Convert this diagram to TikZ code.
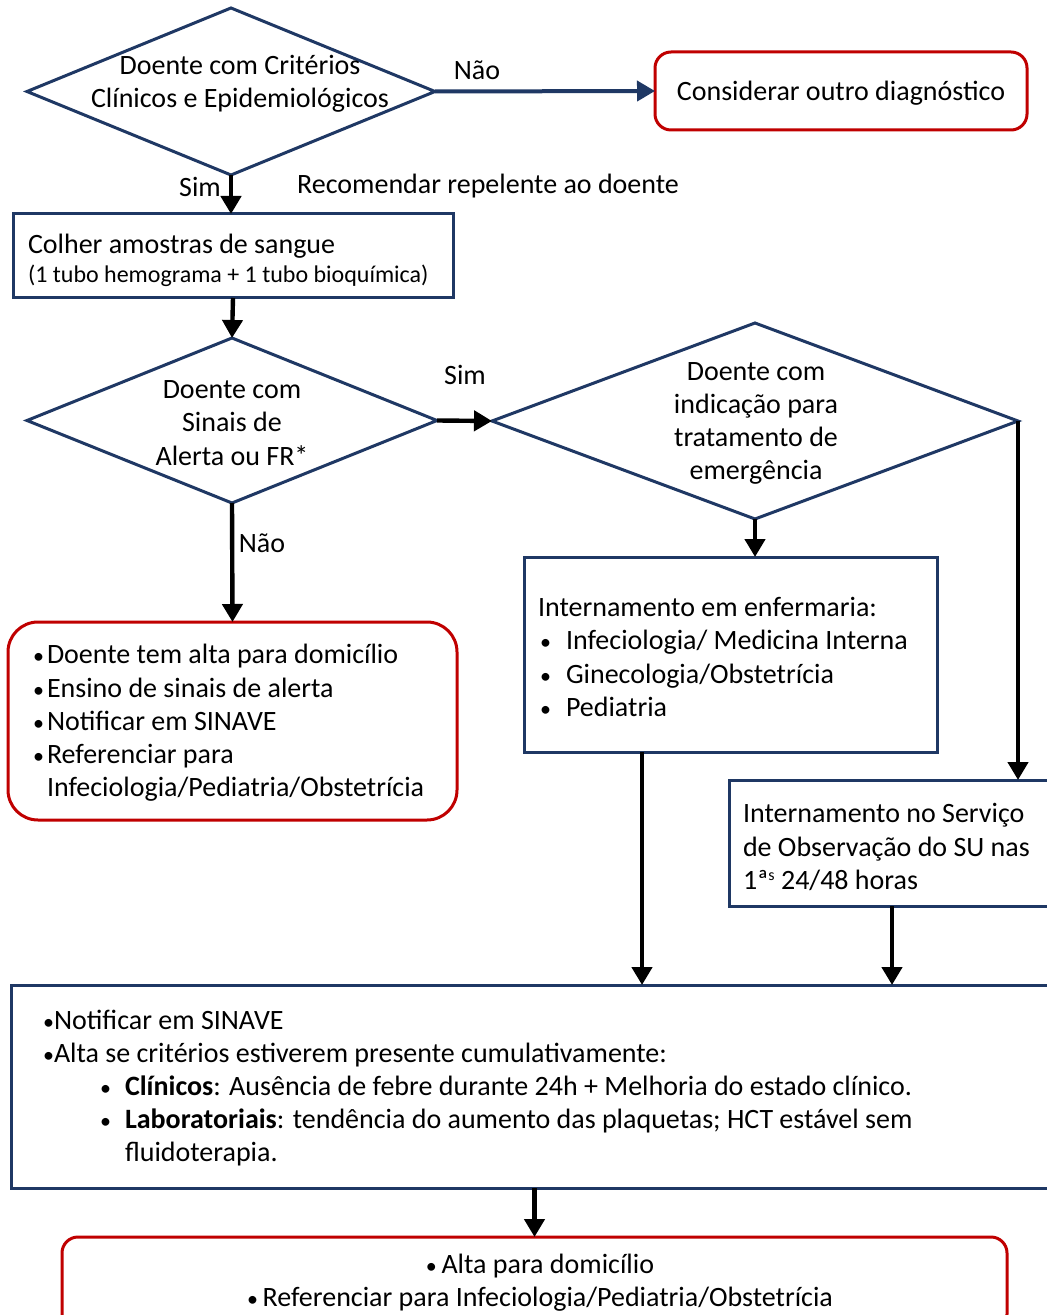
\documentclass[tikz,border=0pt]{standalone}
\usepackage{fontspec}
\setmainfont{Carlito}
\usetikzlibrary{shapes.geometric,arrows.meta}
\definecolor{navy}{RGB}{31,56,100}
\definecolor{dred}{RGB}{192,0,0}
\newcommand{\fsmain}{\fontsize{14}{16.6}\selectfont}
\newcommand{\bul}{{\fontsize{11}{11}\selectfont •}}
\begin{document}
\begin{tikzpicture}[x=0.5pt,y=-0.5pt,
  every node/.style={font=\fsmain, inner sep=0pt, outer sep=0pt},
  dia/.style={diamond, draw=navy, line width=1.5pt, fill=white},
  nbox/.style={rectangle, draw=navy, line width=1.5pt, fill=white},
  rbox/.style={rectangle, draw=dred, line width=1.5pt, fill=white, rounded corners=#1},
  rbox/.default=8pt,
  arr/.style={line width=2.2pt, -{Triangle[length=9pt,width=10pt]}}
]
\clip (0,0) rectangle (1047,1315);
\fill[white] (0,0) rectangle (1047,1315);

% shapes
\node[dia, minimum width=204pt, minimum height=83.5pt] (d1) at (231,91.5) {};
\node[rbox=8pt, minimum width=186pt, minimum height=39pt] (cons) at (841,91) {};
\node[nbox, minimum width=220pt, minimum height=42pt] (colher) at (233,256) {};
\node[dia, minimum width=205pt, minimum height=82.5pt] (d2) at (232,420.5) {};
\node[dia, minimum width=263pt, minimum height=98pt] (d3) at (755,421) {};
\node[nbox, minimum width=206.5pt, minimum height=97.5pt] (enf) at (730.5,654.5) {};
\node[nbox, minimum width=163pt, minimum height=63pt] (so) at (892,843) {};
\node[rbox=15pt, minimum width=224.5pt, minimum height=99pt] (alta) at (232.5,721) {};
\node[nbox, minimum width=522pt, minimum height=101.5pt] (notif) at (533,1086.5) {};
\node[rbox=8pt, minimum width=472.5pt, minimum height=46.5pt] (final) at (534.5,1283.5) {};

% texts
\node[align=center] (t1) at (240,83.5) {Doente com Critérios\\Clínicos e Epidemiológicos};
\node (tcons) at (841,93) {Considerar outro diagnóstico};
\node[anchor=west] (tcol1) at (28,246) {Colher amostras de sangue};
\node[anchor=west, font=\fontsize{12}{14}\selectfont] (tcol2) at (28,276) {(1 tubo hemograma + 1 tubo bioquímica)};
\node[align=center] (t2) at (232,423) {Doente com\\Sinais de\\Alerta ou FR*};
\node[align=center] (t3) at (756,423.5) {Doente com\\indicação para\\tratamento de\\emergência};
\node[anchor=west, align=left] (tenf) at (538,657) {Internamento em enfermaria:\\
\makebox[14pt][l]{\hspace{1pt}\bul}Infeciologia/ Medicina Interna\\
\makebox[14pt][l]{\hspace{1pt}\bul}Ginecologia/Obstetrícia\\
\makebox[14pt][l]{\hspace{1pt}\bul}Pediatria};
\node[anchor=west, align=left] (tso) at (743,847) {Internamento no Serviço\\de Observação do SU nas\\1ª\raisebox{4.5pt}{\fontsize{8}{8}\selectfont s} 24/48 horas};
\node[anchor=west, align=left] (tleft) at (33,723) {\makebox[7pt][l]{\bul}Doente tem alta para domicílio\\
\makebox[7pt][l]{\bul}Ensino de sinais de alerta\\
\makebox[7pt][l]{\bul}Notificar em SINAVE\\
\makebox[7pt][l]{\bul}Referenciar para\\
\hspace*{7pt}Infeciologia/Pediatria/Obstetrícia};
\node[anchor=west, align=left] (tnotif) at (43,1088) {\makebox[5.5pt][l]{\bul}Notificar em SINAVE\\
\makebox[5.5pt][l]{\bul}Alta se critérios estiverem presente cumulativamente:\\
\hspace*{28.5pt}\makebox[12.5pt][l]{\bul}\textbf{Clínicos}: Ausência de febre durante 24h + Melhoria do estado clínico.\\
\hspace*{28.5pt}\makebox[12.5pt][l]{\bul}\textbf{Laboratoriais}: tendência do aumento das plaquetas; HCT estável sem\\
\hspace*{41pt}fluidoterapia.};
\node[align=center] (tfinal) at (540,1282.5) {\bul\,Alta para domicílio\\\bul\,Referenciar para Infeciologia/Pediatria/Obstetrícia};

% labels
\node (lnao1) at (477,70) {Não};
\node (lsim1) at (200,187) {Sim};
\node (trec) at (488,186) {Recomendar repelente ao doente};
\node (lsim2) at (465,375) {Sim};
\node (lnao2) at (262,543) {Não};

% connectors
\draw[arr, draw=navy, line width=2pt] (d1.east) -- (cons.west);
\draw[arr] (d1.south) -- (d1.south |- colher.north);
\draw[arr] (colher.south) -- (d2.north);
\draw[arr] (d2.east) -- (d3.west);
\draw[arr] (d2.south) -- (alta.north);
\draw[arr] (d3.south) -- (d3.south |- enf.north);
\draw[arr] (d3.east) -- (d3.east |- so.north);
\draw[arr] ([xshift=-44.25pt]enf.south) -- ([xshift=-44.25pt]enf.south |- notif.north);
\draw[arr] (so.south) -- (so.south |- notif.north);
\draw[arr] (notif.south -| final.north) -- (final.north);
\end{tikzpicture}
\end{document}
